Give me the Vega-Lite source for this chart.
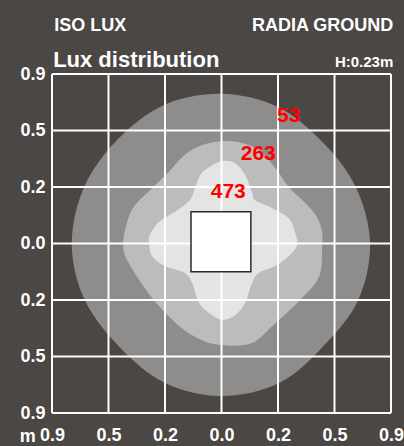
{
  "$schema": "https://vega.github.io/schema/vega-lite/v6.json",
  "width": 339,
  "height": 339,
  "autosize": {"type": "none"},
  "padding": {"left": 52, "top": 74, "right": 13, "bottom": 33},
  "background": "#4a4745",
  "config": {
    "view": {"stroke": null},
    "font": "Liberation Sans"
  },
  "datasets": {
    "outer": [
      {"i": 0, "x": 0.0, "y": 2.65}, {"i": 1, "x": 0.99, "y": 2.42}, {"i": 2, "x": 1.79, "y": 1.79},
      {"i": 3, "x": 2.38, "y": 0.99}, {"i": 4, "x": 2.63, "y": 0.0}, {"i": 5, "x": 2.42, "y": -1.0},
      {"i": 6, "x": 1.81, "y": -1.81}, {"i": 7, "x": 1.02, "y": -2.47}, {"i": 8, "x": 0.0, "y": -2.7},
      {"i": 9, "x": -1.0, "y": -2.47}, {"i": 10, "x": -1.82, "y": -1.82}, {"i": 11, "x": -2.43, "y": -0.98},
      {"i": 12, "x": -2.65, "y": 0.0}, {"i": 13, "x": -2.43, "y": 1.0}, {"i": 14, "x": -1.84, "y": 1.84},
      {"i": 15, "x": -1.0, "y": 2.46}
    ],
    "middle": [
      {"i": 0, "x": 0.01, "y": 1.81}, {"i": 1, "x": 0.36, "y": 1.78}, {"i": 2, "x": 0.66, "y": 1.65},
      {"i": 3, "x": 0.95, "y": 1.34}, {"i": 4, "x": 1.19, "y": 1.0}, {"i": 5, "x": 1.47, "y": 0.73},
      {"i": 6, "x": 1.69, "y": 0.47}, {"i": 7, "x": 1.78, "y": 0.2}, {"i": 8, "x": 1.78, "y": -0.03},
      {"i": 9, "x": 1.73, "y": -0.58}, {"i": 10, "x": 1.37, "y": -1.02}, {"i": 11, "x": 0.95, "y": -1.41},
      {"i": 12, "x": 0.54, "y": -1.76}, {"i": 13, "x": 0.01, "y": -1.8}, {"i": 14, "x": -0.35, "y": -1.71},
      {"i": 15, "x": -0.75, "y": -1.46}, {"i": 16, "x": -1.23, "y": -0.96}, {"i": 17, "x": -1.64, "y": -0.35},
      {"i": 18, "x": -1.74, "y": -0.03}, {"i": 19, "x": -1.67, "y": 0.38}, {"i": 20, "x": -1.53, "y": 0.68},
      {"i": 21, "x": -1.23, "y": 0.98}, {"i": 22, "x": -0.93, "y": 1.27}, {"i": 23, "x": -0.65, "y": 1.57},
      {"i": 24, "x": -0.35, "y": 1.74}
    ],
    "inner": [
      {"i": 0, "x": 0.01, "y": 1.46}, {"i": 1, "x": 0.24, "y": 1.42}, {"i": 2, "x": 0.42, "y": 1.21},
      {"i": 3, "x": 0.54, "y": 0.91}, {"i": 4, "x": 0.59, "y": 0.77}, {"i": 5, "x": 0.89, "y": 0.63},
      {"i": 6, "x": 1.19, "y": 0.45}, {"i": 7, "x": 1.3, "y": 0.2}, {"i": 8, "x": 1.34, "y": -0.03},
      {"i": 9, "x": 1.19, "y": -0.22}, {"i": 10, "x": 0.95, "y": -0.4}, {"i": 11, "x": 0.66, "y": -0.52},
      {"i": 12, "x": 0.54, "y": -0.7}, {"i": 13, "x": 0.42, "y": -1.05}, {"i": 14, "x": 0.24, "y": -1.27},
      {"i": 15, "x": 0.01, "y": -1.35}, {"i": 16, "x": -0.22, "y": -1.23}, {"i": 17, "x": -0.4, "y": -1.05},
      {"i": 18, "x": -0.52, "y": -0.7}, {"i": 19, "x": -0.65, "y": -0.52}, {"i": 20, "x": -1.0, "y": -0.4},
      {"i": 21, "x": -1.23, "y": -0.22}, {"i": 22, "x": -1.28, "y": 0.01}, {"i": 23, "x": -1.27, "y": 0.15},
      {"i": 24, "x": -1.11, "y": 0.38}, {"i": 25, "x": -0.82, "y": 0.56}, {"i": 26, "x": -0.56, "y": 0.77},
      {"i": 27, "x": -0.47, "y": 0.98}, {"i": 28, "x": -0.38, "y": 1.21}, {"i": 29, "x": -0.22, "y": 1.35}
    ],
    "grid": [{"v": -3}, {"v": -2}, {"v": -1}, {"v": 0}, {"v": 1}, {"v": 2}, {"v": 3}],
    "luxLabels": [
      {"lux": "53", "x": 1.19, "y": 2.26},
      {"lux": "263", "x": 0.65, "y": 1.58},
      {"lux": "473", "x": 0.12, "y": 0.91}
    ]
  },
  "encoding": {
    "x": {
      "field": "x", "type": "quantitative",
      "scale": {"domain": [-3, 3], "nice": false, "zero": false},
      "axis": {
        "values": [-3, -2, -1, 0, 1, 2, 3],
        "labelExpr": "['0.9','0.5','0.2','0.0','0.2','0.5','0.9'][datum.value + 3]",
        "grid": false, "domain": false, "ticks": false, "title": null,
        "labelFlush": false, "labelColor": "#ffffff", "labelFont": "Liberation Sans",
        "labelFontWeight": "bold", "labelFontSize": 18, "labelPadding": 13
      }
    },
    "y": {
      "field": "y", "type": "quantitative",
      "scale": {"domain": [-3, 3], "nice": false, "zero": false},
      "axis": {
        "values": [-3, -2, -1, 0, 1, 2, 3],
        "labelExpr": "['0.9','0.5','0.2','0.0','0.2','0.5','0.9'][datum.value + 3]",
        "grid": false, "domain": false, "ticks": false, "title": null,
        "labelFlush": false, "labelColor": "#ffffff", "labelFont": "Liberation Sans",
        "labelFontWeight": "bold", "labelFontSize": 18, "labelPadding": 7
      }
    }
  },
  "layer": [
    {
      "data": {"name": "outer"},
      "mark": {"type": "line", "fill": "#8e8d8b", "stroke": null, "interpolate": "cardinal-closed"},
      "encoding": {"order": {"field": "i", "type": "quantitative"}}
    },
    {
      "data": {"name": "middle"},
      "mark": {"type": "line", "fill": "#bcbcbb", "stroke": null, "interpolate": "cardinal-closed"},
      "encoding": {"order": {"field": "i", "type": "quantitative"}}
    },
    {
      "data": {"name": "inner"},
      "mark": {"type": "line", "fill": "#e4e4e4", "stroke": null, "interpolate": "cardinal-closed"},
      "encoding": {"order": {"field": "i", "type": "quantitative"}}
    },
    {
      "data": {"name": "grid"},
      "mark": {"type": "rule", "color": "#ffffff", "strokeWidth": 2},
      "encoding": {"x": {"field": "v", "type": "quantitative"}, "y": null}
    },
    {
      "data": {"name": "grid"},
      "mark": {"type": "rule", "color": "#ffffff", "strokeWidth": 2},
      "encoding": {"y": {"field": "v", "type": "quantitative"}, "x": null}
    },
    {
      "data": {"values": [{"x": -0.54, "x2": 0.52, "y": -0.5, "y2": 0.56}]},
      "mark": {"type": "rect", "fill": "#ffffff", "stroke": "#2a2a2a", "strokeWidth": 1.5},
      "encoding": {
        "x2": {"field": "x2"},
        "y2": {"field": "y2"}
      }
    },
    {
      "data": {"name": "luxLabels"},
      "mark": {"type": "text", "color": "#ff0000", "font": "Liberation Sans", "fontWeight": "bold", "fontSize": 21, "align": "center", "baseline": "middle"},
      "encoding": {"text": {"field": "lux"}}
    },
    {
      "data": {"values": [{"t": "ISO LUX", "x": -2.96, "y": 3.76}]},
      "mark": {"type": "text", "color": "#ffffff", "font": "Liberation Sans", "fontWeight": "bold", "fontSize": 18, "align": "left", "baseline": "alphabetic"},
      "encoding": {"text": {"field": "t"}}
    },
    {
      "data": {"values": [{"t": "RADIA GROUND", "x": 3.04, "y": 3.76}]},
      "mark": {"type": "text", "color": "#ffffff", "font": "Liberation Sans", "fontWeight": "bold", "fontSize": 18, "align": "right", "baseline": "alphabetic"},
      "encoding": {"text": {"field": "t"}}
    },
    {
      "data": {"values": [{"t": "Lux distribution", "x": -2.98, "y": 3.12}]},
      "mark": {"type": "text", "color": "#ffffff", "font": "Liberation Sans", "fontWeight": "bold", "fontSize": 22, "align": "left", "baseline": "alphabetic"},
      "encoding": {"text": {"field": "t"}}
    },
    {
      "data": {"values": [{"t": "H:0.23m", "x": 3.04, "y": 3.12}]},
      "mark": {"type": "text", "color": "#ffffff", "font": "Liberation Sans", "fontWeight": "bold", "fontSize": 15, "align": "right", "baseline": "alphabetic"},
      "encoding": {"text": {"field": "t"}}
    },
    {
      "data": {"values": [{"t": "m", "x": -3.43, "y": -3.51}]},
      "mark": {"type": "text", "color": "#ffffff", "font": "Liberation Sans", "fontWeight": "bold", "fontSize": 18, "align": "center", "baseline": "alphabetic"},
      "encoding": {"text": {"field": "t"}}
    }
  ]
}
